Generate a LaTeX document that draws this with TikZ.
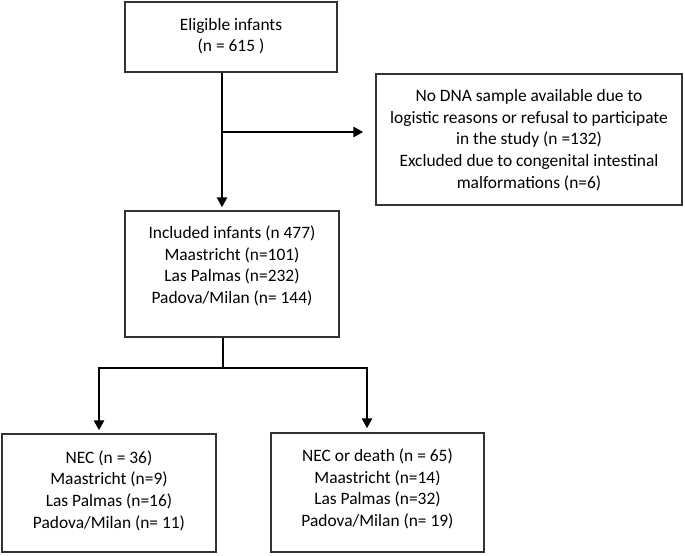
\documentclass[tikz,border=0pt]{standalone}
\usepackage{fontspec}
\setmainfont{Carlito}
\usetikzlibrary{arrows.meta}
\begin{document}
\begin{tikzpicture}[x=1pt,y=-1pt,
  box/.style={draw=black!80,line width=1.3pt,inner sep=0pt,fill=white},
  txt/.style={align=center,font=\fontsize{17.4pt}{21.6pt}\selectfont,inner sep=0pt},
  conn/.style={line width=2.8pt,black},
  arr/.style={conn,-{Triangle[length=10pt,width=10pt]}}]
\fill[white] (0,0) rectangle (685,556);
\useasboundingbox (0,0) rectangle (685,556);
% boxes
\node[box,minimum width=212pt,minimum height=70pt] (b1) at (231,37) {};
\node[box,minimum width=214pt,minimum height=126pt] (b2) at (232,274) {};
\node[box,minimum width=306pt,minimum height=131pt] (b3) at (529,139.5) {};
\node[box,minimum width=214pt,minimum height=118pt] (b4) at (109,493) {};
\node[box,minimum width=213pt,minimum height=119pt] (b5) at (377.5,492.5) {};
% texts
\node[txt] (t1) at (231,36) {Eligible infants\\(n = 615 )};
\node[txt] (t2) at (232,266) {Included infants (n 477)\\Maastricht (n=101)\\Las Palmas (n=232)\\Padova/Milan (n= 144)};
\node[txt] (t3) at (529,140) {No DNA sample available due to\\logistic reasons or refusal to participate\\in the study (n =132)\\Excluded due to congenital intestinal\\malformations (n=6)};
\node[txt] (t4) at (109,490.5) {NEC (n = 36)\\Maastricht (n=9)\\Las Palmas (n=16)\\Padova/Milan (n= 11)};
\node[txt] (t5) at (377.5,489) {NEC or death (n = 65)\\Maastricht (n=14)\\Las Palmas (n=32)\\Padova/Milan (n= 19)};
% connector coordinates
\coordinate (c1) at (222,72);
\coordinate (j1) at (222,132);
\coordinate (j2) at (223,368);
\coordinate (l2) at (99,368);
\coordinate (r2) at (367,368);
% connectors
\draw[arr,shorten >=3pt] (c1 |- b1.south) -- (c1 |- b2.north);
\draw[arr,shorten >=12pt] (j1) -- (j1 -| b3.west);
\draw[conn] (j2 |- b2.south) -- (j2);
\draw[arr,shorten >=3pt] ([xshift=1.4pt]j2) -- (l2) -- (l2 |- b4.north);
\draw[arr,shorten >=4pt] ([xshift=-1.4pt]j2) -- (r2) -- (r2 |- b5.north);
\end{tikzpicture}
\end{document}
